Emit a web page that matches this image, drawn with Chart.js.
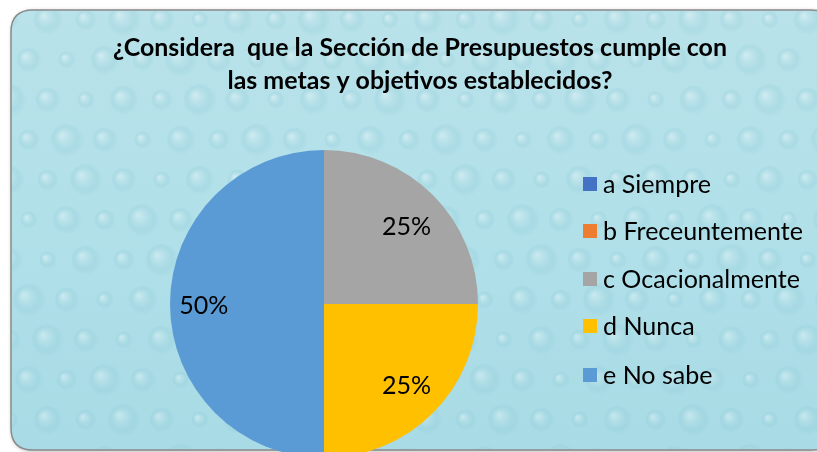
<!DOCTYPE html>
<html>
<head>
<meta charset="utf-8">
<script src="https://cdn.jsdelivr.net/npm/chart.js@4/dist/chart.umd.min.js"></script>
<style>
html,body{margin:0;padding:0;background:#fff;overflow:hidden;}
#wrap{width:817px;height:452px;overflow:hidden;position:relative;}
#box{width:817px;height:470px;position:absolute;left:0;top:0;}
</style>
</head>
<body>
<div id="wrap"><div id="box"><canvas id="c" width="817" height="470"></canvas></div></div>
<script>
const titleLines = ["¿Considera  que la Sección de Presupuestos cumple con", "las metas y objetivos establecidos?"];
const categories = ["a Siempre", "b Freceuntemente", "c Ocacionalmente", "d Nunca", "e No sabe"];
const values = [0, 0, 25, 25, 50];
const colors = ["#4472C4", "#ED7D31", "#A5A5A5", "#FFC000", "#5B9BD5"];
const FONT = "Lato, 'Open Sans', 'Liberation Sans', sans-serif";

function roundRect(ctx, x, y, w, h, r) {
  ctx.beginPath();
  ctx.moveTo(x + r, y);
  ctx.lineTo(x + w - r, y);
  ctx.quadraticCurveTo(x + w, y, x + w, y + r);
  ctx.lineTo(x + w, y + h - r);
  ctx.quadraticCurveTo(x + w, y + h, x + w - r, y + h);
  ctx.lineTo(x + r, y + h);
  ctx.quadraticCurveTo(x, y + h, x, y + h - r);
  ctx.lineTo(x, y + r);
  ctx.quadraticCurveTo(x, y, x + r, y);
  ctx.closePath();
}

const FX = 11, FY = 10, FW = 822, FH = 440, FR = 22;

const bgPlugin = {
  id: 'bg',
  beforeDraw(chart) {
    const ctx = chart.ctx;
    ctx.save();
    ctx.fillStyle = '#ffffff';
    ctx.fillRect(0, 0, chart.width, chart.height);
    ctx.shadowColor = 'rgba(0,0,0,0.35)';
    ctx.shadowBlur = 4;
    ctx.shadowOffsetX = 1;
    ctx.shadowOffsetY = 1;
    roundRect(ctx, FX, FY, FW, FH, FR);
    const g = ctx.createLinearGradient(0, FY, 0, FY + FH);
    g.addColorStop(0, '#b9e2ea');
    g.addColorStop(0.5, '#b1e0e9');
    g.addColorStop(1, '#a8dbe5');
    ctx.fillStyle = g;
    ctx.fill();
    ctx.shadowColor = 'transparent';
    ctx.lineWidth = 1.5;
    ctx.strokeStyle = '#8a8a8a';
    ctx.stroke();
    // subtle droplet texture (decorative)
    ctx.save();
    roundRect(ctx, FX + 1, FY + 1, FW - 2, FH - 2, FR - 1);
    ctx.clip();
    for (let row = 0; row < 12; row++) {
      for (let col = 0; col < 22; col++) {
        const x = 10 + col * 38 + (row % 2) * 19;
        const y = 20 + row * 40;
        const rr = 9 + ((row * 7 + col * 3) % 5) * 2;
        const rg = ctx.createRadialGradient(x - rr * 0.3, y - rr * 0.3, 1, x, y, rr);
        rg.addColorStop(0, 'rgba(255,255,255,0.3)');
        rg.addColorStop(0.7, 'rgba(130,195,208,0.2)');
        rg.addColorStop(1, 'rgba(120,190,205,0)');
        ctx.fillStyle = rg;
        ctx.beginPath();
        ctx.ellipse(x, y, rr, rr * 1.15, 0, 0, Math.PI * 2);
        ctx.fill();
      }
    }
    ctx.restore();
    ctx.restore();
  }
};

function fitFont(ctx, text, weight, targetW) {
  ctx.font = weight + ' 20px ' + FONT;
  const w = ctx.measureText(text).width;
  return 20 * targetW / w;
}

const textPlugin = {
  id: 'texts',
  afterDraw(chart) {
    const ctx = chart.ctx;
    ctx.save();
    const ts = fitFont(ctx, titleLines[0], 'bold', 614);
    ctx.font = 'bold ' + ts.toFixed(2) + 'px ' + FONT;
    ctx.fillStyle = '#000';
    ctx.textAlign = 'center';
    ctx.textBaseline = 'middle';
    ctx.fillText(titleLines[0], 420, 48);
    ctx.fillText(titleLines[1], 420, 81);
    const ls = fitFont(ctx, categories[1], 'normal', 200);
    ctx.font = ls.toFixed(2) + 'px ' + FONT;
    ctx.textAlign = 'left';
    const ys = [184, 231, 279, 326, 375];
    categories.forEach((c, i) => {
      ctx.fillStyle = colors[i];
      ctx.fillRect(583, ys[i] - 7, 14, 14);
      ctx.fillStyle = '#000';
      ctx.fillText(c, 603, ys[i] + 1);
    });
    const meta = chart.getDatasetMeta(0);
    const total = values.reduce((a, b) => a + b, 0);
    ctx.textAlign = 'center';
    meta.data.forEach((arc, i) => {
      if (!values[i]) return;
      const p = arc.getProps(['x', 'y', 'startAngle', 'endAngle', 'outerRadius'], true);
      const mid = (p.startAngle + p.endAngle) / 2;
      const frac = values[i] / total;
      const r = p.outerRadius * (frac >= 0.5 ? 0.8 : 0.73);
      const x = p.x + Math.cos(mid) * r;
      const y = p.y + Math.sin(mid) * r;
      ctx.fillStyle = '#000';
      ctx.fillText(Math.round(frac * 100) + '%', x + 3, y + 2);
    });
    ctx.restore();
  }
};

new Chart(document.getElementById('c'), {
  type: 'pie',
  data: {
    labels: categories,
    datasets: [{
      data: values,
      backgroundColor: colors,
      borderWidth: 0
    }]
  },
  options: {
    responsive: false,
    animation: false,
    layout: { padding: { left: 170, right: 339, top: 150, bottom: 12 } },
    plugins: {
      legend: { display: false },
      title: { display: false },
      tooltip: { enabled: false }
    }
  },
  plugins: [bgPlugin, textPlugin]
});
</script>
</body>
</html>
